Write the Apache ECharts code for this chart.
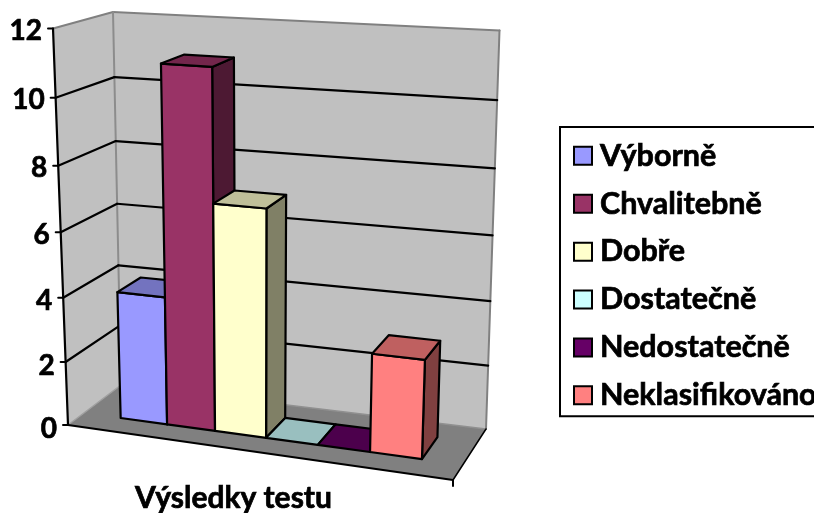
<!DOCTYPE html>
<html><head><meta charset="utf-8">
<style>html,body{margin:0;padding:0;background:#fff}#c{width:814px;height:513px}</style>
<script src="https://cdn.jsdelivr.net/npm/echarts@6/dist/echarts.min.js"></script>
</head><body><div id="c"></div>
<script>
const categories = ['Výsledky testu'];
const seriesNames = ['Výborně','Chvalitebně','Dobře','Dostatečně','Nedostatečně','Neklasifikováno'];
const seriesValues = [4, 11, 7, 0, 0, 3];
const tickValues = [0, 2, 4, 6, 8, 10, 12];
const frontColors = ['#9999FF','#993366','#FFFFCC','#CCFFFF','#660066','#FF8080'];
const topColors   = ['#7373BF','#73264C','#BFBF99','#99BFBF','#4C004C','#BF6060'];
const sideColors  = ['#4D4D80','#4D1933','#808066','#668080','#330033','#804040'];

// Projection frame of the 3D box (layout only)
const A=[68,425],B=[453,480],C=[121,385],D=[486,429],E=[53,28.5],H=[469,55],F=[113,12],G=[499.5,30.5];
const EDGES=[.097,.2195,.346,.4807,.617,.755,.892];
const Z0=.3, Z1=.74, KY=.945;
const GRID={left:68,top:28,width:331,height:397,outerBoundsMode:'none'};
const lerp=(p,q,t)=>[p[0]+(q[0]-p[0])*t,p[1]+(q[1]-p[1])*t];
function proj(u,t,z){
  const tt=KY*t/(1+t*(KY-1));
  const bot=lerp(lerp(A,B,u),lerp(C,D,u),z), top=lerp(lerp(E,H,u),lerp(F,G,u),z);
  return lerp(bot,top,tt);
}
const fracT=py=>(GRID.top+GRID.height-py)/GRID.height;
function slotU(px){
  const s=(px-GRID.left)/GRID.width*6, i=Math.min(5,Math.floor(s));
  return EDGES[i]+(EDGES[i+1]-EDGES[i])*(s-i);
}
const poly=(pts,fill,stroke,w)=>({type:'polygon',shape:{points:pts},style:{fill:fill,stroke:stroke||'#000',lineWidth:w==null?2.2:w,lineJoin:'round'},silent:true});
const line=(p,q,c,w)=>({type:'line',shape:{x1:p[0],y1:p[1],x2:q[0],y2:q[1]},style:{stroke:c,lineWidth:w,lineCap:'round'},silent:true});

function barRender(idx){
  return function(params,api){
    const p0=api.coord([idx,0]), p1=api.coord([idx+1,api.value(0)]);
    const u0=slotU(p0[0]), u1=slotU(p1[0]), t=fracT(p1[1]);
    const ch=[];
    if(t>0){
      ch.push(poly([proj(u1,0,Z0),proj(u1,0,Z1),proj(u1,t,Z1),proj(u1,t,Z0)],sideColors[idx]));
      ch.push(poly([proj(u0,0,Z0),proj(u1,0,Z0),proj(u1,t,Z0),proj(u0,t,Z0)],frontColors[idx]));
    }
    ch.push(poly([proj(u0,t,Z0),proj(u1,t,Z0),proj(u1,t,Z1),proj(u0,t,Z1)],topColors[idx]));
    return {type:'group',children:ch};
  };
}
function frameRender(params,api){
  const ch=[];
  ch.push(poly([E,F,C,A],'#C0C0C0','#C0C0C0',0));
  ch.push(poly([F,G,D,C],'#C0C0C0','#C0C0C0',0));
  ch.push(poly([A,C,D,B],'#808080','#808080',0));
  ch.push(line(E,F,'#808080',2));
  ch.push(line(F,G,'#808080',2));
  ch.push(line(F,C,'#8C8C8C',2));
  ch.push(line(G,D,'#808080',2));
  ch.push(line(A,C,'#A0A0A0',1.5));
  ch.push(line(C,D,'#909090',1.5));
  ch.push(line(D,B,'#000',1.5));
  ch.push(line(A,B,'#000',2.2));
  ch.push(line(A,E,'#000',2.2));
  ch.push(line(B,[B[0],B[1]+6],'#000',2));
  return {type:'group',children:ch};
}
function tickRender(params,api){
  const v=api.value(0), t=fracT(api.coord([0,v])[1]);
  const a=proj(0,t,0), b=proj(0,t,1), c=proj(1,t,1);
  const ch=[];
  if(v>0&&v<12){ch.push(line(a,b,'#000',2.2));ch.push(line(b,c,'#000',2.2));}
  ch.push(line(a,[a[0]-5,a[1]],'#000',2));
  ch.push({type:'text',silent:true,style:{text:String(v),x:a[0]-11,y:a[1]+2+2*(1-t),align:'right',verticalAlign:'middle',fontFamily:'Lato',fontWeight:'bold',fontSize:28,fill:'#000',stroke:'#000',lineWidth:0.7}});
  return {type:'group',children:ch};
}

const series=[
 {type:'custom',name:'frame',xAxisIndex:1,yAxisIndex:0,clip:false,silent:true,data:[[0]],renderItem:frameRender,encode:{x:-1,y:-1}},
 {type:'custom',name:'ticks',xAxisIndex:1,yAxisIndex:0,clip:false,silent:true,data:tickValues.map(v=>[v]),renderItem:tickRender,encode:{x:-1,y:0}}
];
seriesNames.forEach((n,i)=>series.push({
  type:'custom',name:n,xAxisIndex:1,yAxisIndex:0,clip:false,silent:true,
  itemStyle:{color:frontColors[i]},data:[[seriesValues[i]]],renderItem:barRender(i),encode:{x:-1,y:0}
}));

const chart=echarts.init(document.getElementById('c'),null,{renderer:'canvas'});
chart.setOption({
  animation:false,backgroundColor:'#fff',
  grid:Object.assign({},GRID),
  xAxis:[
    {type:'category',data:categories,position:'bottom',axisLine:{show:false},axisTick:{show:false},splitLine:{show:false},
     axisLabel:{margin:58,fontFamily:'Lato',fontWeight:'bold',fontSize:30,color:'#000',textBorderColor:'#000',textBorderWidth:0.7}},
    {type:'value',min:0,max:6,show:false,splitLine:{show:false}}
  ],
  yAxis:[{type:'value',min:0,max:12,interval:2,show:false,splitLine:{show:false}}],
  legend:{show:true,orient:'vertical',left:560,top:127,icon:'rect',data:seriesNames.map((n,i)=>({name:n})),
    itemWidth:18,itemHeight:18,itemGap:16.2,padding:[13,60,5,13],borderColor:'#000',borderWidth:2,backgroundColor:'#fff',
    selectedMode:false,itemStyle:{borderColor:'#000',borderWidth:2},
    textStyle:{fontFamily:'Lato',fontWeight:'bold',fontSize:30.5,color:'#000',padding:[0,0,0,3],textBorderColor:'#000',textBorderWidth:0.7}},
  tooltip:{show:false},
  series:series
});
</script></body></html>
